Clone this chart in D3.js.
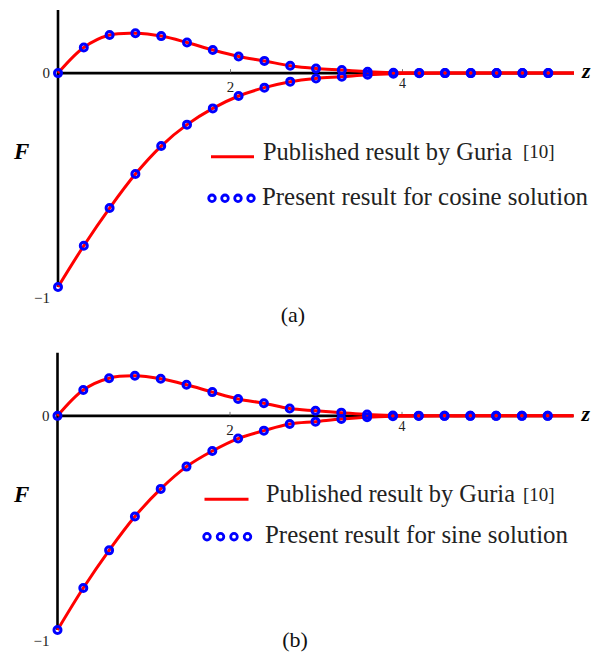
<!DOCTYPE html>
<html>
<head>
<meta charset="utf-8">
<script src="https://cdn.jsdelivr.net/npm/d3@7"></script>
<style>
  html, body { margin: 0; padding: 0; background: #fff; }
  svg { display: block; }
  svg text { font-family: "Liberation Serif", "Times New Roman", Times, "DejaVu Serif", serif; }
</style>
</head>
<body>
<svg id="chart" width="604" height="661"></svg>
<script>
// Similarity variable z (markers every 0.3, curves run on to z = 6)
const zValues = [0, 0.3, 0.6, 0.9, 1.2, 1.5, 1.8, 2.1, 2.4, 2.7, 3.0,
                 3.3, 3.6, 3.9, 4.2, 4.5, 4.8, 5.1, 5.4, 5.7, 6.0];
const markerLastZ = 5.7;

// (a) cosine solution
const cosUpper = [0, 0.120, 0.178, 0.186, 0.173, 0.143, 0.108, 0.078, 0.057, 0.034, 0.021,
                  0.014, 0.006, 0.002, 0.001, 0, 0, 0, 0, 0, 0];
const cosLower = [-1, -0.807, -0.631, -0.472, -0.341, -0.241, -0.165, -0.107, -0.068, -0.040, -0.025,
                  -0.017, -0.008, -0.003, -0.001, 0, 0, 0, 0, 0, 0];

// (b) sine solution
const sinUpper = [0, 0.121, 0.176, 0.187, 0.173, 0.145, 0.111, 0.079, 0.059, 0.034, 0.024,
                  0.015, 0.006, 0.002, 0.001, 0, 0, 0, 0, 0, 0];
const sinLower = [-1, -0.804, -0.628, -0.470, -0.341, -0.237, -0.164, -0.106, -0.069, -0.038, -0.027,
                  -0.015, -0.006, -0.002, -0.001, 0, 0, 0, 0, 0, 0];

const xTicks = [2, 4];
const yTicks = [0, -1];
const zDomain = [0, 6];
const fDomain = [-1, 0.295];

const legendLine = "Published result by Guria";
const legendRef = "[10]";
const legendDotsA = "Present result for cosine solution";
const legendDotsB = "Present result for sine solution";

const svg = d3.select("#chart");

function drawPanel(cfg) {
  const x = d3.scaleLinear(zDomain, [cfg.x0, cfg.x0 + 516]);
  const y = d3.scaleLinear(fDomain, [cfg.yBottom, cfg.yTop]);
  const g = svg.append("g");

  // axes
  g.append("line")
    .attr("x1", x(0)).attr("x2", x(0))
    .attr("y1", y(fDomain[1])).attr("y2", y(-1))
    .attr("stroke", "#000").attr("stroke-width", 2.6);
  g.append("line")
    .attr("x1", x(0)).attr("x2", x(6))
    .attr("y1", y(0)).attr("y2", y(0))
    .attr("stroke", "#000").attr("stroke-width", 2.6);

  const xAxis = g.append("g")
    .attr("transform", `translate(0,${y(0)})`)
    .call(d3.axisBottom(x).tickValues(xTicks).tickSize(-4).tickFormat(d3.format("d")));
  xAxis.attr("font-family", null);
  xAxis.select(".domain").remove();
  xAxis.selectAll(".tick line").attr("stroke", "#555").attr("stroke-width", 0.8);
  xAxis.selectAll(".tick text")
    .attr("fill", "#222")
    .attr("font-size", d => d === 2 ? 15 : 14)
    .attr("y", d => d === 2 ? 8 : 5);

  const yAxis = g.append("g")
    .attr("transform", `translate(${x(0)},0)`)
    .call(d3.axisLeft(y).tickValues(yTicks).tickSize(0).tickPadding(8).tickFormat(d3.format("d")));
  yAxis.attr("font-family", null);
  yAxis.select(".domain").remove();
  yAxis.selectAll(".tick text")
    .attr("fill", "#222").attr("font-size", 15)
    .attr("dy", d => d === -1 ? "1.05em" : "0.32em");

  // axis titles
  g.append("text")
    .attr("x", 14).attr("y", cfg.fBase)
    .attr("font-weight", "bold").attr("font-style", "italic")
    .attr("font-size", 23).text("F");
  g.append("text")
    .attr("x", x(6) + 8).attr("y", y(0) + 5)
    .attr("font-weight", "bold").attr("font-style", "italic")
    .attr("font-size", 22).text("z");

  // curves
  const line = d3.line()
    .x((d, i) => x(zValues[i]))
    .y(d => y(d))
    .curve(d3.curveCatmullRom.alpha(0.5));
  [cfg.upper, cfg.lower].forEach(series => {
    g.append("path")
      .attr("d", line(series))
      .attr("fill", "none").attr("stroke", "#ff0000").attr("stroke-width", 3);
  });

  // markers
  [cfg.upper, cfg.lower].forEach(series => {
    g.append("g").selectAll("circle")
      .data(series.map((v, i) => [zValues[i], v]).filter(d => d[0] <= markerLastZ + 1e-9))
      .join("circle")
      .attr("cx", d => x(d[0])).attr("cy", d => y(d[1]))
      .attr("r", 3.5)
      .attr("fill", "none").attr("stroke", "#0000ff").attr("stroke-width", 3);
  });

  // legend
  const lg = g.append("g");
  lg.append("line")
    .attr("x1", cfg.lgLine[0]).attr("x2", cfg.lgLine[1])
    .attr("y1", cfg.lgLineY).attr("y2", cfg.lgLineY)
    .attr("stroke", "#ff0000").attr("stroke-width", 3);
  lg.append("text")
    .attr("x", cfg.lgTextX).attr("y", cfg.lgLineY + 2.8)
    .attr("font-size", 24.5).attr("fill", "#222")
    .attr("textLength", cfg.lgTextW).attr("lengthAdjust", "spacingAndGlyphs")
    .text(legendLine);
  lg.append("text")
    .attr("x", 523).attr("y", cfg.lgLineY + 1.5)
    .attr("font-size", 19).attr("fill", "#222")
    .text(legendRef);
  lg.selectAll("circle.lg")
    .data(d3.range(4))
    .join("circle")
    .attr("class", "lg")
    .attr("cx", i => cfg.lgDots[0] + i * (cfg.lgDots[1] - cfg.lgDots[0]) / 3)
    .attr("cy", cfg.lgDotsY)
    .attr("r", 3.3)
    .attr("fill", "none").attr("stroke", "#0000ff").attr("stroke-width", 2.8);
  lg.append("text")
    .attr("x", cfg.lgText2X).attr("y", cfg.lgDotsY + 6.5)
    .attr("font-size", 24.5).attr("fill", "#222")
    .attr("textLength", cfg.lgText2W).attr("lengthAdjust", "spacingAndGlyphs")
    .text(cfg.dotsLabel);

  // panel caption
  g.append("text")
    .attr("x", cfg.capX).attr("y", cfg.capY)
    .attr("text-anchor", "middle")
    .attr("font-size", 22).attr("fill", "#111")
    .text(cfg.caption);
}

drawPanel({
  x0: 58, yTop: 10, yBottom: 287,
  upper: cosUpper, lower: cosLower,
  fBase: 159,
  lgLine: [211, 254], lgLineY: 156.7, lgTextX: 263, lgTextW: 249,
  lgDots: [212, 251], lgDotsY: 198.3, lgText2X: 262, lgText2W: 326,
  dotsLabel: legendDotsA,
  capX: 293, capY: 322, caption: "(a)"
});

drawPanel({
  x0: 57.5, yTop: 352.7, yBottom: 630,
  upper: sinUpper, lower: sinLower,
  fBase: 502,
  lgLine: [204.5, 248.5], lgLineY: 499.3, lgTextX: 266, lgTextW: 249,
  lgDots: [207, 247.5], lgDotsY: 536.7, lgText2X: 265, lgText2W: 303,
  dotsLabel: legendDotsB,
  capX: 295, capY: 647, caption: "(b)"
});
</script>
</body>
</html>
